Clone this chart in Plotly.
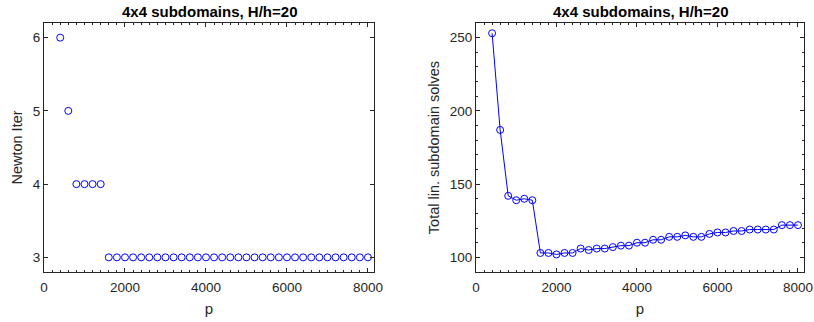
import plotly.graph_objects as go
from plotly.subplots import make_subplots

p = [400, 600, 800, 1000, 1200, 1400] + list(range(1600, 8001, 200))
newton_iter = [6, 5, 4, 4, 4, 4] + [3] * 33
lin_solves = [253, 187, 142, 139, 140, 139,
              103, 103, 102, 103, 103, 106, 105, 106, 106, 107, 108, 108,
              110, 110, 112, 112, 114, 114, 115, 114, 114, 116, 117, 117,
              118, 118, 119, 119, 119, 119, 122, 122, 122]
title_text = "4x4 subdomains, H/h=20"

W, H = 814, 322
L, R, T, B = 44, 10, 23, 50
pw = W - L - R
d1 = [0, (374 - L) / pw]
d2 = [(476 - L) / pw, 1]

fig = make_subplots(rows=1, cols=2)
fig.add_trace(go.Scatter(x=p, y=newton_iter, mode="markers",
                         marker=dict(symbol="circle-open", size=7, color="#0000ff",
                                     line=dict(width=1, color="#0000ff")),
                         showlegend=False, cliponaxis=False), row=1, col=1)
fig.add_trace(go.Scatter(x=p, y=lin_solves, mode="lines+markers",
                         line=dict(color="#0000ff", width=1),
                         marker=dict(symbol="circle-open", size=7, color="#0000ff",
                                     line=dict(width=1, color="#0000ff")),
                         showlegend=False, cliponaxis=False), row=1, col=2)

axcol = "#262626"
ff = "Liberation Sans, Arial, sans-serif"
font = dict(family=ff, size=14, color=axcol)
common = dict(showline=True, linecolor=axcol, linewidth=1, mirror="ticks",
              ticks="inside", ticklen=4, tickcolor=axcol, showgrid=False,
              zeroline=False, automargin=False, ticklabeloverflow="allow",
              tickfont=dict(size=13.5, color=axcol))

fig.update_xaxes(**common, range=[0, 8150], dtick=2000, ticklabelstandoff=3,
                 minor=dict(dtick=200, ticks="inside", ticklen=2, tickcolor=axcol),
                 title=dict(text="p", font=dict(size=15, color=axcol), standoff=9))
fig.update_xaxes(domain=d1, row=1, col=1)
fig.update_xaxes(domain=d2, row=1, col=2)
fig.update_yaxes(**common)
fig.update_yaxes(range=[2.8, 6.2], dtick=1, row=1, col=1,
                 title=dict(text="Newton Iter", font=dict(size=14.5, color=axcol), standoff=6))
fig.update_yaxes(range=[90, 260], dtick=50, row=1, col=2,
                 minor=dict(dtick=10, ticks="inside", ticklen=2, tickcolor=axcol),
                 title=dict(text="Total lin. subdomain solves", font=dict(size=14.5, color=axcol), standoff=6))

for d in (d1, d2):
    fig.add_annotation(text="<b>" + title_text + "</b>", x=(d[0] + d[1]) / 2, y=1,
                       xref="paper", yref="paper", xanchor="center", yanchor="bottom",
                       yshift=1, showarrow=False, font=dict(family=ff, size=15, color="#000000"))

fig.update_layout(width=W, height=H, margin=dict(l=L, r=R, t=T, b=B, autoexpand=False),
                  plot_bgcolor="white", paper_bgcolor="white", font=font)

fig.write_html("out.html", config={"displayModeBar": False},
               post_script="document.body.style.margin='0';document.body.style.padding='0';")
